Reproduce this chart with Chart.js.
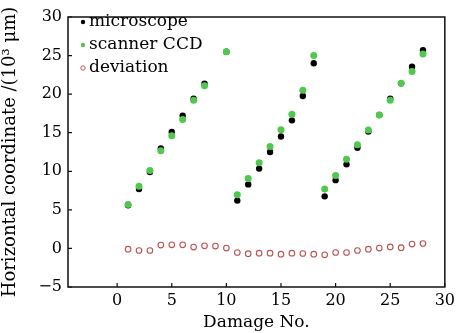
<!DOCTYPE html>
<html>
<head>
<meta charset="utf-8">
<script src="https://cdn.jsdelivr.net/npm/chart.js@4/dist/chart.umd.min.js"></script>
<style>
  html, body { margin: 0; padding: 0; background: #fff; }
  #wrap { width: 459px; height: 333px; }
</style>
</head>
<body>
<div id="wrap"><canvas id="chart" width="459" height="333"></canvas></div>
<script>
// values (10^3 um)
const damageNo = [1, 2, 3, 4, 5, 6, 7, 8, 9, 10, 11, 12, 13, 14, 15, 16, 17, 18, 19, 20, 21, 22, 23, 24, 25, 26, 27, 28];
const microscope = [5.6, 7.7, 9.9, 12.95, 15.1, 17.2, 19.4, 21.35, null, 25.5,
                    6.2, 8.3, 10.35, 12.5, 14.5, 16.6, 19.75, 24.0,
                    6.75, 8.85, 10.9, 13.05, 15.15, 17.3, 19.4, 21.4, 23.55, 25.7];
const scanner = [5.7, 8.05, 10.1, 12.65, 14.6, 16.7, 19.2, 21.1, null, 25.5,
                 6.95, 9.05, 11.1, 13.2, 15.4, 17.4, 20.5, 25.0,
                 7.7, 9.45, 11.55, 13.45, 15.35, 17.3, 19.2, 21.4, 22.95, 25.2];
const deviation = [-0.1, -0.27, -0.27, 0.43, 0.47, 0.47, 0.17, 0.34, 0.3, 0.05,
                   -0.53, -0.68, -0.62, -0.62, -0.75, -0.62, -0.66, -0.75, -0.83,
                   -0.53, -0.53, -0.27, -0.1, 0.04, 0.2, 0.1, 0.56, 0.64];
const xTicks = [0, 5, 10, 15, 20, 25, 30];
const yTicks = [-5, 0, 5, 10, 15, 20, 25, 30];

const FONT = 'DejaVu Serif';
const toPts = arr => damageNo.map((d, i) => ({ x: d, y: arr[i] })).filter(p => p.y !== null);

// frame, inward ticks and legend inside the plot
const framePlugin = {
  id: 'frame',
  afterDraw(chart) {
    const ctx = chart.ctx;
    const a = chart.chartArea;
    const xs = chart.scales.x, ys = chart.scales.y;
    ctx.save();
    ctx.strokeStyle = '#111';
    ctx.lineWidth = 1.5;
    ctx.strokeRect(a.left, a.top, a.right - a.left, a.bottom - a.top);
    ctx.lineWidth = 1.2;
    ctx.beginPath();
    xTicks.forEach(v => {
      const px = xs.getPixelForValue(v);
      ctx.moveTo(px, a.bottom); ctx.lineTo(px, a.bottom - 4);
    });
    yTicks.forEach(v => {
      const py = ys.getPixelForValue(v);
      ctx.moveTo(a.left, py); ctx.lineTo(a.left + 4, py);
    });
    ctx.stroke();

    // legend
    ctx.font = '17px "' + FONT + '"';
    ctx.textBaseline = 'middle';
    ctx.textAlign = 'left';
    chart.data.datasets.forEach(ds => {
      const y = 22 + ds.legendRow * 23;
      const mx = 83;
      ctx.beginPath();
      ctx.arc(mx, y, 2.2, 0, Math.PI * 2);
      if (ds.legendHollow) {
        ctx.strokeStyle = ds.borderColor;
        ctx.lineWidth = 1;
        ctx.stroke();
      } else {
        ctx.fillStyle = ds.backgroundColor;
        ctx.fill();
      }
      ctx.fillStyle = '#000';
      ctx.fillText(ds.label, 89, y);
    });
    ctx.restore();
  }
};

new Chart(document.getElementById('chart'), {
  type: 'scatter',
  data: {
    datasets: [
      {
        label: 'deviation',
        data: toPts(deviation),
        pointRadius: 2.8,
        pointBorderWidth: 1.1,
        borderColor: 'rgb(190, 80, 80)',
        backgroundColor: 'rgba(255,255,255,0)',
        legendHollow: true,
        legendRow: 2,
        order: 3
      },
      {
        label: 'microscope',
        data: toPts(microscope),
        pointRadius: 3.2,
        pointBorderWidth: 0,
        borderColor: '#000',
        backgroundColor: '#000',
        legendRow: 0,
        order: 2
      },
      {
        label: 'scanner CCD',
        data: toPts(scanner),
        pointRadius: 3.5,
        pointBorderWidth: 0,
        borderColor: 'rgb(80, 200, 80)',
        backgroundColor: 'rgb(80, 200, 80)',
        legendRow: 1,
        order: 1
      }
    ]
  },
  options: {
    responsive: false,
    animation: false,
    layout: { padding: { top: 17, right: 12, left: 0, bottom: 0 } },
    plugins: {
      legend: { display: false },
      tooltip: { enabled: false }
    },
    scales: {
      x: {
        type: 'linear',
        min: -4.5,
        max: 30,
        afterBuildTicks: s => { s.ticks = xTicks.map(v => ({ value: v })); },
        afterFit: s => { s.height = 46; },
        grid: { display: false, drawTicks: false },
        border: { display: false },
        ticks: {
          color: '#000',
          padding: 4,
          maxRotation: 0,
          font: { family: FONT, size: 16 }
        },
        title: {
          display: true,
          text: 'Damage No.',
          color: '#000',
          padding: { top: 0, bottom: 0 },
          font: { family: FONT, size: 17 }
        }
      },
      y: {
        type: 'linear',
        min: -5,
        max: 30,
        afterBuildTicks: s => { s.ticks = yTicks.map(v => ({ value: v })); },
        afterFit: s => { s.width = 68; },
        grid: { display: false, drawTicks: false },
        border: { display: false },
        ticks: {
          color: '#000',
          padding: 6,
          font: { family: FONT, size: 16 },
          callback: v => (v < 0 ? '\u2212' + Math.abs(v) : String(v))
        },
        title: {
          display: true,
          text: 'Horizontal coordinate /(10\u00b3 \u03bcm)',
          color: '#000',
          padding: { top: 0, bottom: 1 },
          font: { family: FONT, size: 18 }
        }
      }
    }
  },
  plugins: [framePlugin]
});
</script>
</body>
</html>
